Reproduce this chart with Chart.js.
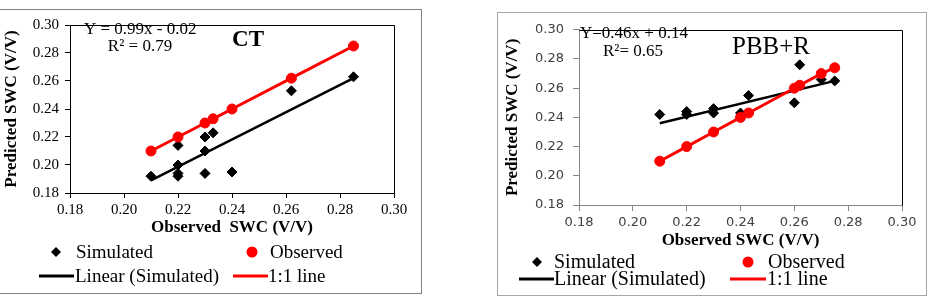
<!DOCTYPE html>
<html>
<head>
<meta charset="utf-8">
<script src="https://cdn.jsdelivr.net/npm/chart.js@4.4.1/dist/chart.umd.min.js"></script>
<style>
    body { margin: 0; background: #fff; width: 932px; height: 298px; overflow: hidden; position: relative; }
    .panel { position: absolute; box-sizing: border-box; background: #fff; }
    #p1 { left: -1px; top: 9px; width: 423px; height: 285px; border: 1px solid #7f7f7f; }
    #p2 { left: 497px; top: 12px; width: 430px; height: 284px; border: 1px solid #a6a6a6; }
    .box { position: relative; }
    canvas { display: block; }
</style>
</head>
<body>
<div class="panel" id="p1"><div class="box" style="width:421px;height:283px"><canvas id="ctChart"></canvas></div></div>
<div class="panel" id="p2"><div class="box" style="width:428px;height:282px"><canvas id="pbChart"></canvas></div></div>
<script>
// shared axis ticks and series names
const tickValues = [0.18, 0.20, 0.22, 0.24, 0.26, 0.28, 0.30];
const seriesNames = ['Simulated', 'Observed', 'Linear (Simulated)', '1:1 line'];

// CT panel
const ctSimX = [0.21, 0.22, 0.22, 0.22, 0.22, 0.23, 0.23, 0.23, 0.233, 0.24, 0.262, 0.285];
const ctSimY = [0.192, 0.214, 0.200, 0.194, 0.192, 0.220, 0.210, 0.194, 0.223, 0.195, 0.253, 0.263];
const ctObsX = [0.21, 0.22, 0.23, 0.233, 0.24, 0.262, 0.285];
const ctObsY = [0.21, 0.22, 0.23, 0.233, 0.24, 0.262, 0.285];
const ctFitX = [0.21, 0.285];
const ctFitY = [0.189, 0.262];

// PBB+R panel
const pbSimX = [0.21, 0.22, 0.22, 0.23, 0.23, 0.24, 0.243, 0.26, 0.262, 0.27, 0.275];
const pbSimY = [0.242, 0.244, 0.242, 0.246, 0.243, 0.243, 0.255, 0.250, 0.276, 0.266, 0.265];
const pbObsX = [0.21, 0.22, 0.23, 0.24, 0.243, 0.26, 0.262, 0.27, 0.275];
const pbObsY = [0.21, 0.22, 0.23, 0.24, 0.243, 0.26, 0.262, 0.27, 0.274];
const pbFitX = [0.21, 0.275];
const pbFitY = [0.236, 0.265];

const serif = "'Liberation Serif', 'Times New Roman', serif";
const colors = { black: '#000000', red: '#FF0000', greyAxis: '#868686' };

const pairs = (xs, ys) => xs.map((x, i) => ({ x, y: ys[i] }));

const buildDatasets = (simX, simY, obsX, obsY, fitX, fitY) => [
    { label: seriesNames[0], data: pairs(simX, simY), showLine: false, pointStyle: 'rectRot', pointRadius: 5,
      pointBackgroundColor: colors.black, pointBorderColor: colors.black, pointBorderWidth: 1, order: 2 },
    { label: seriesNames[1], data: pairs(obsX, obsY), showLine: false, pointStyle: 'circle', pointRadius: 5,
      pointBackgroundColor: colors.red, pointBorderColor: colors.red, pointBorderWidth: 1, order: 0 },
    { label: seriesNames[2], data: pairs(fitX, fitY), showLine: true, pointRadius: 0,
      borderColor: colors.black, borderWidth: 2.5, order: 3 },
    { label: seriesNames[3], data: pairs(obsX, obsY), showLine: true, pointRadius: 0,
      borderColor: colors.red, borderWidth: 3, order: 1 }
];

const makeAxis = (title, s) => ({
    type: 'linear', min: 0.18, max: 0.30,
    afterBuildTicks: a => { a.ticks = tickValues.map(v => ({ value: v })); },
    afterFit: a => { if (a.isHorizontal()) a.height = s.size; else a.width = s.size; },
    grid: { drawOnChartArea: false, drawTicks: true, tickLength: s.tick, color: s.axisColor },
    border: { color: s.axisColor, width: 1 },
    ticks: { color: s.tickColor, font: s.tickFont, padding: s.pad, autoSkip: false, maxRotation: 0,
             callback: v => v.toFixed(2) },
    title: { display: true, text: title, color: '#000', font: { family: serif, size: 17, weight: 'bold' }, padding: s.titlePad }
});

// frame, notes and 2x2 legend drawn on the canvas
const panelPlugin = (cfg) => ({
    id: 'panelExtras',
    beforeDatasetsDraw(chart) {
        const { ctx, chartArea: a } = chart;
        ctx.save();
        ctx.strokeStyle = cfg.frameColor;
        ctx.lineWidth = 1;
        ctx.beginPath();
        ctx.moveTo(Math.round(a.left) + 0.5, Math.round(a.top) + 0.5);
        ctx.lineTo(Math.round(a.right) + 0.5, Math.round(a.top) + 0.5);
        ctx.lineTo(Math.round(a.right) + 0.5, Math.round(a.bottom) + 0.5);
        ctx.stroke();
        ctx.restore();
    },
    afterDraw(chart) {
        const ctx = chart.ctx;
        const ds = chart.data.datasets;
        ctx.save();
        ctx.fillStyle = '#000';
        ctx.textBaseline = 'middle';
        cfg.notes.forEach(n => {
            ctx.font = n.font;
            ctx.textAlign = n.align || 'left';
            ctx.fillText(n.text, n.x, n.y);
        });
        ctx.font = cfg.legendFont;
        ctx.textAlign = 'left';
        cfg.legend.forEach((it, i) => {
            const d = ds[i];
            if (d.showLine) {
                ctx.strokeStyle = d.borderColor;
                ctx.lineWidth = 3;
                ctx.beginPath();
                ctx.moveTo(it.x0, it.y);
                ctx.lineTo(it.x1, it.y);
                ctx.stroke();
            } else if (d.pointStyle === 'rectRot') {
                ctx.fillStyle = d.pointBackgroundColor;
                ctx.beginPath();
                ctx.moveTo(it.x0, it.y - 5);
                ctx.lineTo(it.x0 + 5, it.y);
                ctx.lineTo(it.x0, it.y + 5);
                ctx.lineTo(it.x0 - 5, it.y);
                ctx.closePath();
                ctx.fill();
            } else {
                ctx.fillStyle = d.pointBackgroundColor;
                ctx.beginPath();
                ctx.arc(it.x0, it.y, 5.5, 0, Math.PI * 2);
                ctx.fill();
            }
            ctx.fillStyle = '#000';
            ctx.fillText(d.label, it.tx, it.y + 1);
        });
        ctx.restore();
    }
});

const makeChart = (id, datasets, layout, xAxis, yAxis, extras) => new Chart(document.getElementById(id), {
    type: 'scatter',
    data: { datasets },
    options: {
        responsive: true,
        maintainAspectRatio: false,
        animation: false,
        events: [],
        layout: { padding: layout },
        plugins: { legend: { display: false }, tooltip: { enabled: false } },
        scales: { x: xAxis, y: yAxis }
    },
    plugins: [panelPlugin(extras)]
});

// CT chart
makeChart('ctChart',
    buildDatasets(ctSimX, ctSimY, ctObsX, ctObsY, ctFitX, ctFitY),
    { left: 0, right: 27, top: 9, bottom: 50 },
    makeAxis('Observed  SWC (V/V)', { size: 50, tick: 5, pad: 3, axisColor: '#000', tickColor: '#000',
        tickFont: { family: serif, size: 15 }, titlePad: { top: 0, bottom: 5 } }),
    makeAxis('Predicted SWC (V/V)', { size: 70, tick: 5, pad: 6, axisColor: '#000', tickColor: '#000',
        tickFont: { family: serif, size: 15 }, titlePad: { top: 1, bottom: 0 } }),
    {
        frameColor: '#000',
        notes: [
            { text: 'Y = 0.99x - 0.02', x: 84, y: 20, font: '17px ' + serif },
            { text: 'R\u00B2 = 0.79', x: 140, y: 37, font: '17px ' + serif, align: 'center' },
            { text: 'CT', x: 248, y: 30, font: 'bold 23px ' + serif, align: 'center' }
        ],
        legendFont: '19px ' + serif,
        legend: [
            { x0: 56, tx: 76, y: 242 },
            { x0: 252, tx: 270, y: 242 },
            { x0: 39, x1: 74, tx: 75, y: 266 },
            { x0: 233, x1: 268, tx: 268, y: 266 }
        ]
    });

// PBB+R chart
makeChart('pbChart',
    buildDatasets(pbSimX, pbSimY, pbObsX, pbObsY, pbFitX, pbFitY),
    { left: 0, right: 24, top: 11, bottom: 42 },
    makeAxis('Observed SWC (V/V)', { size: 48, tick: 6, pad: 4, axisColor: colors.greyAxis, tickColor: '#404040',
        tickFont: { family: "'DejaVu Sans', sans-serif", size: 13 }, titlePad: { top: 0, bottom: 2 } }),
    makeAxis('Predicted SWC (V/V)', { size: 81, tick: 6, pad: 9, axisColor: colors.greyAxis, tickColor: '#404040',
        tickFont: { family: "'DejaVu Sans', sans-serif", size: 13 }, titlePad: { top: 4, bottom: 0 } }),
    {
        frameColor: '#000',
        notes: [
            { text: 'Y=0.46x + 0.14', x: 82, y: 21, font: '17px ' + serif },
            { text: 'R\u00B2= 0.65', x: 105, y: 39, font: '17px ' + serif },
            { text: 'PBB+R', x: 234, y: 34, font: '25px ' + serif }
        ],
        legendFont: '20px ' + serif,
        legend: [
            { x0: 39, tx: 56, y: 249 },
            { x0: 250, tx: 270, y: 249 },
            { x0: 21, x1: 56, tx: 56, y: 266 },
            { x0: 232, x1: 268, tx: 269, y: 266 }
        ]
    });
</script>
</body>
</html>
